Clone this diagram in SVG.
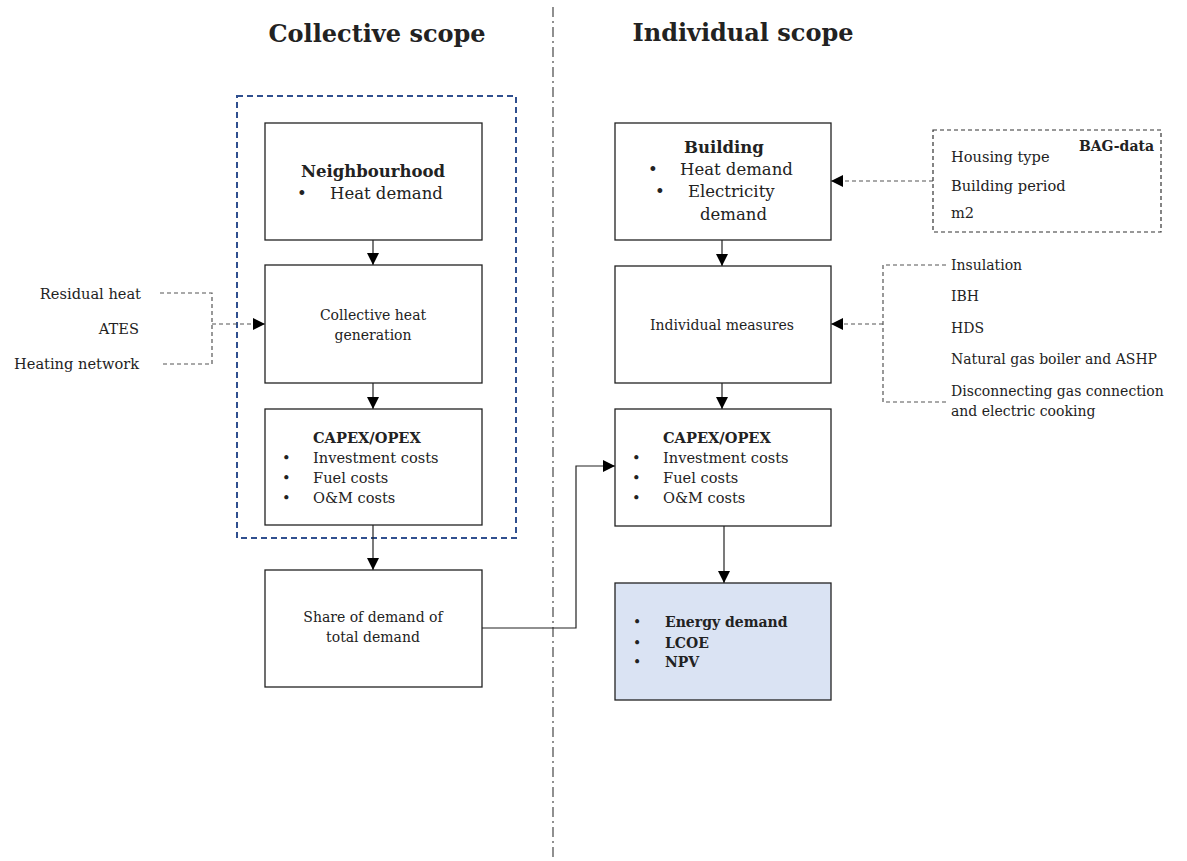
<svg xmlns="http://www.w3.org/2000/svg" width="1187" height="861" viewBox="0 0 1187 861">
<defs>
<style>
text{font-family:"DejaVu Serif","Liberation Serif",serif;fill:#222;}
.t{font-size:24px;font-weight:bold;text-anchor:middle;}
.b{font-size:16.5px;}
.s{font-size:14px;}
.c{font-size:14.6px;}
.bold{font-weight:bold;}
.m{text-anchor:middle;}
.e{text-anchor:end;}
.box{fill:#fff;stroke:#222;stroke-width:1.3;}
.ln{fill:none;stroke:#222;stroke-width:1.2;}
.dl{fill:none;stroke:#555;stroke-width:1.2;stroke-dasharray:4 3;}
</style>
<marker id="ah" viewBox="0 0 10 10" refX="10" refY="5" markerWidth="12" markerHeight="12" markerUnits="userSpaceOnUse" orient="auto"><path d="M0,0L10,5L0,10z" fill="#000"/></marker>
</defs>
<rect width="1187" height="861" fill="#fff"/>
<line x1="553" y1="7" x2="553" y2="861" stroke="#555" stroke-width="1.3" stroke-dasharray="10 4 2 4"/>
<text class="t" x="377" y="42">Collective scope</text>
<text class="t" x="743" y="41">Individual scope</text>
<rect x="237" y="96" width="279" height="442" fill="none" stroke="#2f4f8f" stroke-width="2" stroke-dasharray="6 4"/>
<g id="connectors">
<line class="ln" x1="373" y1="240" x2="373" y2="265" marker-end="url(#ah)"/>
<line class="ln" x1="373" y1="383" x2="373" y2="409" marker-end="url(#ah)"/>
<line class="ln" x1="373" y1="525" x2="373" y2="570" marker-end="url(#ah)"/>
<line class="ln" x1="722" y1="240" x2="722" y2="266" marker-end="url(#ah)"/>
<line class="ln" x1="722" y1="383" x2="722" y2="409" marker-end="url(#ah)"/>
<line class="ln" x1="724" y1="526" x2="724" y2="583" marker-end="url(#ah)"/>
<polyline class="ln" points="482,628 576,628 576,466 615,466" marker-end="url(#ah)"/>
<line class="dl" x1="933" y1="181" x2="831" y2="181" marker-end="url(#ah)"/>
<polyline class="dl" points="160,293 212,293 212,364 160,364"/>
<line class="dl" x1="212" y1="324" x2="265" y2="324" marker-end="url(#ah)"/>
<polyline class="dl" points="946,265 883,265 883,402 946,402"/>
<line class="dl" x1="883" y1="324" x2="831" y2="324" marker-end="url(#ah)"/>
</g>
<g id="neighbourhood">
<rect class="box" x="265" y="123" width="217" height="117"/>
<text class="b bold m" x="373" y="177">Neighbourhood</text>
<text class="b" x="297" y="199">•</text>
<text class="b" x="330" y="199">Heat demand</text>
</g>
<g id="collective-heat">
<rect class="box" x="265" y="265" width="217" height="118"/>
<text class="s m" x="373" y="320">Collective heat</text>
<text class="s m" x="373" y="340">generation</text>
</g>
<g id="capex-left">
<rect class="box" x="265" y="409" width="217" height="116"/>
<text class="c bold" x="313" y="443">CAPEX/OPEX</text>
<text class="c" x="282" y="463">•</text><text class="c" x="313" y="463">Investment costs</text>
<text class="c" x="282" y="483">•</text><text class="c" x="313" y="483">Fuel costs</text>
<text class="c" x="282" y="503">•</text><text class="c" x="313" y="503">O&amp;M costs</text>
</g>
<g id="share">
<rect class="box" x="265" y="570" width="217" height="117"/>
<text class="s m" x="373" y="622">Share of demand of</text>
<text class="s m" x="373" y="642">total demand</text>
</g>
<g id="inputs-left">
<text class="c e" x="141" y="299">Residual heat</text>
<text class="c e" x="139" y="334">ATES</text>
<text class="c e" x="139" y="369">Heating network</text>
</g>
<g id="building">
<rect class="box" x="615" y="123" width="216" height="117"/>
<text class="b bold" x="684" y="153">Building</text>
<text class="b" x="648" y="175">•</text><text class="b" x="680" y="175">Heat demand</text>
<text class="b" x="655" y="197">•</text><text class="b" x="688" y="197">Electricity</text>
<text class="b" x="700" y="220">demand</text>
</g>
<g id="bag-data">
<rect x="933" y="130" width="228" height="102" fill="#fff" stroke="#333" stroke-width="1.2" stroke-dasharray="4 3"/>
<text class="bold e" style="font-size:14px" x="1154" y="151">BAG-data</text>
<text class="c" x="951" y="162">Housing type</text>
<text class="c" x="951" y="191">Building period</text>
<text class="c" x="951" y="218">m2</text>
</g>
<g id="individual-measures">
<rect class="box" x="615" y="266" width="216" height="117"/>
<text class="s m" x="722" y="330">Individual measures</text>
</g>
<g id="inputs-right">
<text class="s" x="951" y="270">Insulation</text>
<text class="s" x="951" y="301">IBH</text>
<text class="s" x="951" y="333">HDS</text>
<text class="s" x="951" y="364">Natural gas boiler and ASHP</text>
<text class="s" x="951" y="396">Disconnecting gas connection</text>
<text class="s" x="951" y="416">and electric cooking</text>
</g>
<g id="capex-right">
<rect class="box" x="615" y="409" width="216" height="117"/>
<text class="c bold" x="663" y="443">CAPEX/OPEX</text>
<text class="c" x="632" y="463">•</text><text class="c" x="663" y="463">Investment costs</text>
<text class="c" x="632" y="483">•</text><text class="c" x="663" y="483">Fuel costs</text>
<text class="c" x="632" y="503">•</text><text class="c" x="663" y="503">O&amp;M costs</text>
</g>
<g id="output">
<rect x="615" y="583" width="216" height="117" fill="#dae3f3" stroke="#222" stroke-width="1.3"/>
<text class="s" x="633" y="627">•</text><text class="s bold" x="665" y="627">Energy demand</text>
<text class="s" x="633" y="648">•</text><text class="s bold" x="665" y="648">LCOE</text>
<text class="s" x="633" y="667">•</text><text class="s bold" x="665" y="667">NPV</text>
</g>
</svg>
